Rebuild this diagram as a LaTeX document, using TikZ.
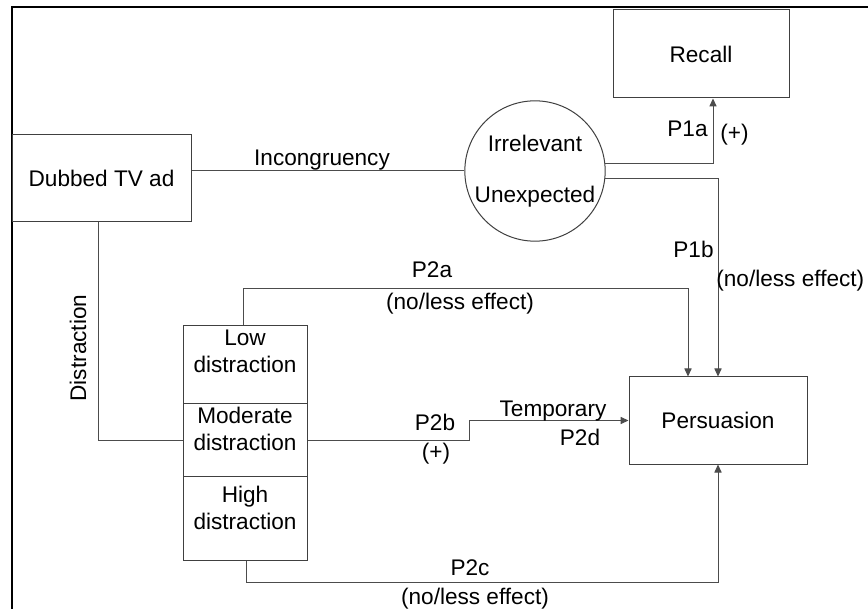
\documentclass[tikz,border=0pt]{standalone}
\usepackage{fontspec}
\setmainfont{Liberation Sans}
\usetikzlibrary{arrows.meta,positioning}
\tikzset{
    box/.style={rectangle,draw=black!75,line width=0.5pt,inner sep=0pt,
      font=\fontsize{11.3}{13.6}\selectfont},
    cell/.style={rectangle,draw=black!75,line width=0.5pt,minimum width=62pt},
    txt/.style={font=\fontsize{11.3}{13.6}\selectfont,align=center,inner sep=0pt},
    conn/.style={draw=black!70,line width=0.5pt},
    arr/.style={conn,-{Triangle[length=4pt,width=3.6pt]}},
}

\begin{document}
\begin{tikzpicture}[x=0.5pt,y=-0.5pt]
\useasboundingbox[fill=white] (0,0) rectangle (868,609);
\draw[line width=1.2pt] (12,609) -- (12,7) -- (868,7);

% boxes
\node[box, minimum width=89.5pt, minimum height=43.5pt] (dub) at (101.5,178.5) {Dubbed TV ad};
\node[box, minimum width=88pt, minimum height=44pt] (recall) at (701,54) {Recall};
\node[box, minimum width=89pt, minimum height=43.5pt] (pers) at (718,420.5) {Persuasion};
\node[circle, draw=black!75, line width=0.5pt, minimum size=70pt, inner sep=0pt,
    font=\fontsize{11.3}{13.6}\selectfont, align=center] (circ) at (535,171)
    {Irrelevant\\[11.9pt]Unexpected};

% distraction levels
\node[cell, minimum height=39pt] (low) at (245,365) {};
\node[cell, minimum height=36pt] (mod) at (245,440) {};
\node[cell, minimum height=42pt] (high) at (245,518) {};
\node[txt] (lowtxt) at (245,351.5) {Low\\distraction};
\node[txt] (modtxt) at (245,429) {Moderate\\distraction};
\node[txt] (hightxt) at (245,508) {High\\distraction};

% connectors
\draw[conn] (circ.west -| dub.east) -- (circ.west);
\draw[conn] ([xshift=-1.75pt]dub.south) |- (mod.west);
\draw[arr] (circ.6) -| ([xshift=6pt]recall.south);
\draw[arr] (circ.-6) -| (pers.north);
\coordinate (p2a) at (243,289);
\draw[arr] (p2a |- low.north) -- (p2a) -| ([xshift=-15pt]pers.north);
\coordinate (p2b) at (469,440);
\draw[arr] (mod.east) -- (p2b) |- (pers.west);
\coordinate (p2c) at (246,582);
\draw[arr] (p2c |- high.south) -- (p2c) -| (pers.south);

% labels
\node[txt, rotate=90] (distr) at (78,348) {Distraction};
\node[txt, anchor=base] (incon) at (322,166) {Incongruency};
\node[txt, anchor=base east] (p1a) at (708,137) {P1a};
\node[txt, anchor=base west] (p1apos) at (720,141) {(+)};
\node[txt, anchor=base east] (p1b) at (714,258) {P1b};
\node[txt, anchor=base west] (p1bno) at (716,287) {(no/less effect)};
\node[txt, anchor=base] (p2alab) at (432,278) {P2a};
\node[txt, anchor=base] (p2ano) at (460,310) {(no/less effect)};
\node[txt, anchor=base] (p2blab) at (435,430) {P2b};
\node[txt, anchor=base] (p2bpos) at (436,459) {(+)};
\node[txt, anchor=base] (temp) at (553,416) {Temporary};
\node[txt, anchor=base] (p2d) at (580,445) {P2d};
\node[txt, anchor=base] (p2clab) at (470,575) {P2c};
\node[txt, anchor=base] (p2cno) at (475,604) {(no/less effect)};
\end{tikzpicture}
\end{document}
